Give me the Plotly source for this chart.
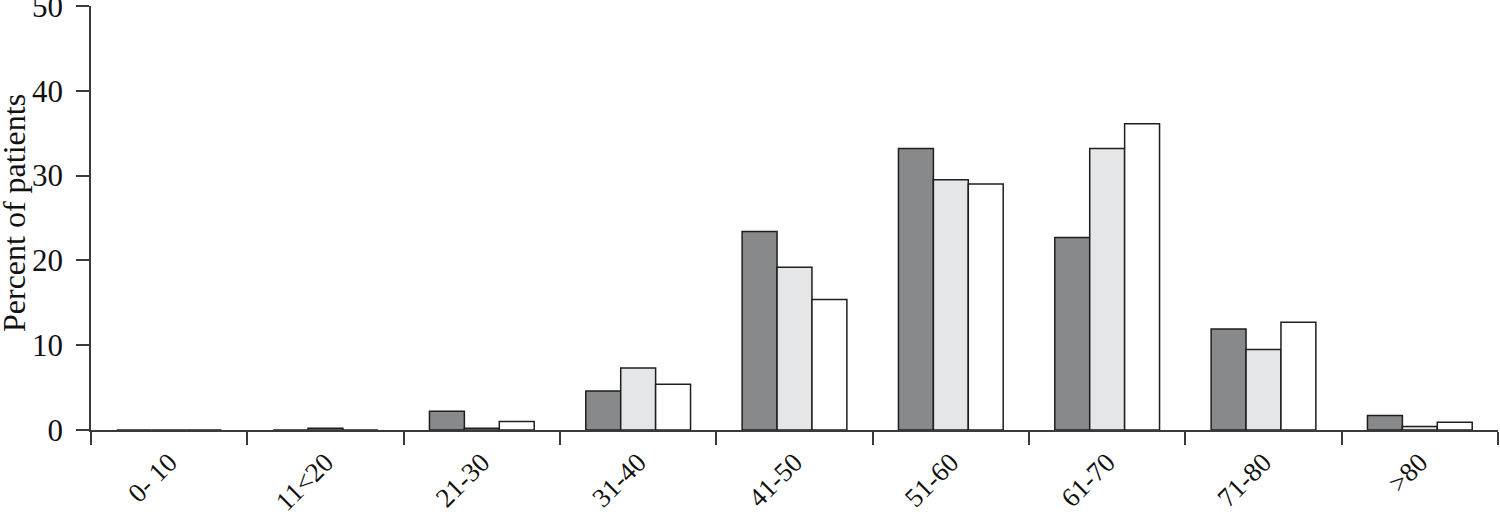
import plotly.graph_objects as go

# Age groups and percent of patients per cohort.
age_groups = ["0- 10", "11<20", "21-30", "31-40", "41-50", "51-60", "61-70", "71-80", ">80"]
series_dark = [0, 0, 2.2, 4.6, 23.4, 33.2, 22.7, 11.9, 1.7]
series_light = [0, 0.2, 0.2, 7.3, 19.2, 29.5, 33.2, 9.5, 0.4]
series_white = [0, 0, 1.0, 5.4, 15.4, 29.0, 36.1, 12.7, 0.9]

_DARK = "#87898b"
_LIGHT = "#e4e6e8"
_WHITE = "#ffffff"
_EDGE = "#1e1e1e"
_AXIS = "#3a3a3a"
_FONT = "Liberation Serif, Times New Roman, serif"

fig = go.Figure()
for vals, col in [(series_dark, _DARK), (series_light, _LIGHT), (series_white, _WHITE)]:
    fig.add_bar(
        x=age_groups, y=vals,
        marker=dict(color=col, line=dict(color=_EDGE, width=1.5)),
        showlegend=False,
    )

fig.update_layout(
    barmode="group",
    bargap=0.33,
    bargroupgap=0,
    width=1500, height=519,
    plot_bgcolor="white", paper_bgcolor="white",
    margin=dict(l=91, r=2, t=6, b=89, autoexpand=False),
    font=dict(family=_FONT, color="#111111", size=30),
)
fig.update_xaxes(
    type="category",
    tickson="boundaries",
    ticks="outside", ticklen=13, tickwidth=1.5, tickcolor=_AXIS,
    showline=True, linecolor=_AXIS, linewidth=1.5,
    tickangle=-45,
    tickfont=dict(size=27),
    ticklabelstandoff=4,
    showgrid=False, automargin=False,
)
fig.update_yaxes(
    range=[0, 50], dtick=10,
    ticks="outside", ticklen=13, tickwidth=1.5, tickcolor=_AXIS,
    showline=True, linecolor=_AXIS, linewidth=1.5,
    tickfont=dict(size=31),
    ticklabeloverflow="allow",
    ticklabelstandoff=7,
    showgrid=False, zeroline=False, automargin=False,
)

# Y title as a rotated annotation so it sits at the far left like the original.
fig.add_annotation(
    text="Percent of patients", textangle=-90,
    xref="paper", yref="paper", x=0, y=0.5,
    xanchor="center", yanchor="middle", xshift=-77, yshift=5,
    showarrow=False, font=dict(size=32),
)

# The page body has a default 8px margin; drop it so the figure sits at 0,0.
fig.write_html(
    "out.html",
    config={"displayModeBar": False},
    post_script="document.body.style.margin='0';",
)
